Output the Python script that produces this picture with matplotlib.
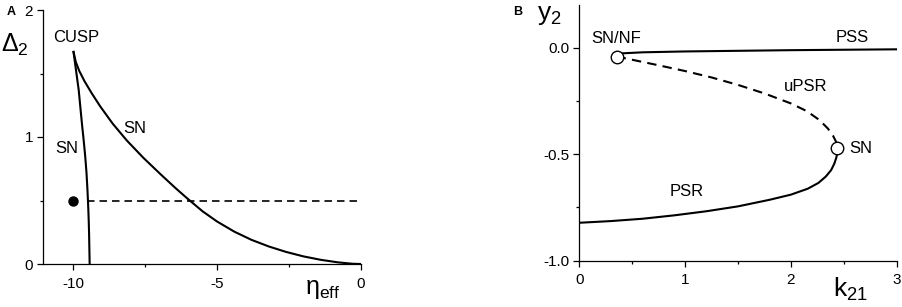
import matplotlib
matplotlib.use("Agg")
import matplotlib.pyplot as plt
from matplotlib.ticker import MultipleLocator

plt.rcParams['font.family'] = ['Liberation Sans', 'DejaVu Sans']
plt.rcParams['mathtext.fontset'] = 'custom'
plt.rcParams['mathtext.rm'] = 'Liberation Sans'
plt.rcParams['mathtext.it'] = 'Liberation Sans'
plt.rcParams['axes.unicode_minus'] = False

# panel A: saddle-node curves meeting at the cusp
eta_sn_left = [-9.98, -9.92, -9.86, -9.80, -9.745, -9.69, -9.63, -9.575,
               -9.53, -9.50, -9.475, -9.455, -9.44, -9.43, -9.42]
delta_sn_left = [1.67, 1.57, 1.47, 1.37, 1.24, 1.11, 0.98, 0.85,
                 0.72, 0.60, 0.48, 0.36, 0.24, 0.12, 0.0]
eta_sn_right = [-9.98, -9.90, -9.78, -9.60, -9.35, -9.05, -8.62, -8.12, -7.55,
                -6.95, -6.45, -6.05, -5.50, -5.00, -4.40, -3.80, -3.20, -2.60,
                -2.00, -1.40, -0.80, -0.30, 0.0]
delta_sn_right = [1.67, 1.59, 1.52, 1.44, 1.345, 1.24, 1.105, 0.97, 0.835,
                  0.705, 0.60, 0.52, 0.415, 0.335, 0.255, 0.19, 0.138, 0.095,
                  0.06, 0.033, 0.013, 0.002, 0.0]
cut_eta = [-9.5, 0.0]
cut_delta = [0.5, 0.5]
dot_eta, dot_delta = -10.0, 0.5

# panel B: branches of y2 against k21
k_pss = [0.40, 0.6, 1.0, 1.33, 2.0, 2.5, 3.0]
y_pss = [-0.027, -0.022, -0.018, -0.016, -0.012, -0.010, -0.008]
k_upsr = [0.353, 0.5, 0.75, 1.0, 1.25, 1.5, 1.75, 2.0, 2.15, 2.27, 2.35, 2.40, 2.43, 2.44]
y_upsr = [-0.042, -0.057, -0.083, -0.11, -0.14, -0.175, -0.215, -0.262, -0.298,
          -0.34, -0.38, -0.415, -0.445, -0.47]
k_psr = [2.44, 2.44, 2.43, 2.41, 2.38, 2.33, 2.26, 2.16, 2.0, 1.8, 1.5, 1.2, 0.9, 0.6, 0.3, 0.0]
y_psr = [-0.47, -0.49, -0.515, -0.545, -0.575, -0.605, -0.635, -0.662, -0.69,
         -0.714, -0.745, -0.768, -0.787, -0.803, -0.814, -0.822]
k_pts = [0.353, 2.44]
y_pts = [-0.042, -0.47]

W, H = 903, 307
fig = plt.figure(figsize=(W / 100, H / 100), dpi=100)


def fx(px):
    return px / W


def fy(py):
    return 1 - py / H


def style(ax):
    ax.spines['top'].set_visible(False)
    ax.spines['right'].set_visible(False)
    for s in ('left', 'bottom'):
        ax.spines[s].set_linewidth(0.9)
    ax.tick_params(which='major', direction='out', length=4, width=0.9,
                   labelsize=11, pad=3)
    ax.tick_params(which='minor', direction='out', length=2.5, width=0.9)
    ax.tick_params(axis='x', which='major', pad=5)


axA = fig.add_axes([fx(42.7), fy(264), fx(361) - fx(42.7), fy(10) - fy(264)])
axA.plot(eta_sn_left, delta_sn_left, color='black', lw=1.5)
axA.plot(eta_sn_right, delta_sn_right, color='black', lw=1.5)
axA.plot(cut_eta, cut_delta, color='black', lw=1.2, dashes=(4.5, 3))
axA.plot([dot_eta], [dot_delta], 'o', color='black', ms=6.5)
axA.set_xlim(-11.05, 0)
axA.set_ylim(0, 2)
axA.set_xticks([-10, -5, 0])
axA.set_yticks([0, 1, 2])
axA.xaxis.set_minor_locator(MultipleLocator(2.5))
axA.yaxis.set_minor_locator(MultipleLocator(0.5))
style(axA)
axA.text(-9.90, 1.78, 'CUSP', fontsize=12, ha='center', va='center')
axA.text(-10.20, 0.91, 'SN', fontsize=12, ha='center', va='center')
axA.text(-7.85, 1.063, 'SN', fontsize=12, ha='center', va='center')

axB = fig.add_axes([fx(579.3), fy(260.7), fx(896.7) - fx(579.3), fy(5) - fy(260.7)])
axB.plot(k_pss, y_pss, color='black', lw=1.5)
axB.plot(k_upsr, y_upsr, color='black', lw=1.5, dashes=(4.5, 3))
axB.plot(k_psr, y_psr, color='black', lw=1.5)
axB.plot(k_pts, y_pts, 'o', ms=9, mfc='white', mec='black', mew=1.0, zorder=5)
axB.set_xlim(0, 3)
axB.set_ylim(-1.0, 0.2)
axB.set_xticks([0, 1, 2, 3])
axB.set_yticks([-1.0, -0.5, 0.0])
axB.set_yticklabels(['-1.0', '-0.5', '0.0'])
axB.xaxis.set_minor_locator(MultipleLocator(0.5))
axB.yaxis.set_minor_locator(MultipleLocator(0.25))
style(axB)
axB.text(0.353, 0.044, 'SN/NF', fontsize=12, ha='center', va='center')
axB.text(2.577, 0.048, 'PSS', fontsize=12, ha='center', va='center')
axB.text(2.14, -0.183, 'uPSR', fontsize=12, ha='center', va='center')
axB.text(2.656, -0.473, 'SN', fontsize=12, ha='center', va='center')
axB.text(1.015, -0.677, 'PSR', fontsize=12, ha='center', va='center')

# axis titles and panel letters
fig.text(fx(11), fy(12), 'A', fontsize=9, fontweight='bold', ha='center', va='center')
fig.text(fx(518), fy(12), 'B', fontsize=9, fontweight='bold', ha='center', va='center')
fig.text(fx(15), fy(45), r'$\mathregular{\Delta_2}$', fontsize=18, ha='center', va='center')
fig.text(fx(323), fy(289), r'$\mathregular{\eta_{eff}}$', fontsize=18, ha='center', va='center')
fig.text(fx(549), fy(15), r'$\mathregular{y_2}$', fontsize=19, ha='center', va='center')
fig.text(fx(851), fy(289), r'$\mathregular{k_{21}}$', fontsize=19, ha='center', va='center')

fig.savefig('out.png', dpi=100)
